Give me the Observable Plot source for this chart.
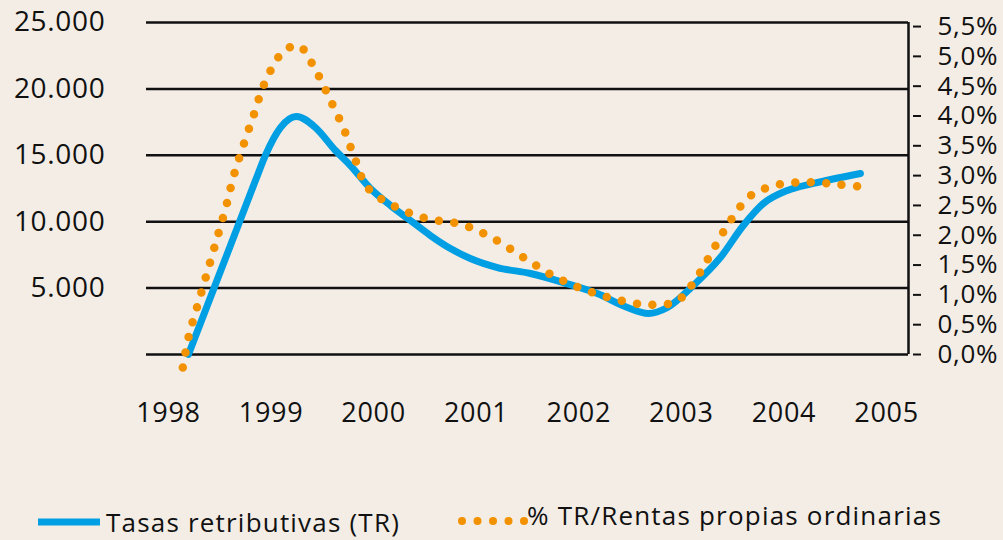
<!DOCTYPE html>
<html>
<head>
<meta charset="utf-8">
<script src="https://cdn.jsdelivr.net/npm/d3@7"></script>
<script src="https://cdn.jsdelivr.net/npm/@observablehq/plot@0.6"></script>
<style>
  html, body { margin: 0; padding: 0; background: #f3ede6; }
  body { width: 1003px; height: 540px; overflow: hidden; font-family: "Open Sans", sans-serif; color: #111; }
  #legend { position: relative; height: 50px; }
  #legend span { position: absolute; font-size: 26px; line-height: 30px; white-space: nowrap; letter-spacing: 1.2px; }
  #legend svg { position: absolute; overflow: visible; }
  #chart svg text { letter-spacing: 0.7px; }
</style>
</head>
<body>
<div id="chart"></div>
<div id="legend"></div>
<script>
// Tasas retributivas (TR), in euros (left axis)
const tasasYear  = [1998.195, 1998.848, 1998.945, 1999.092, 1999.248, 1999.433, 1999.628, 1999.774, 1999.969, 2000.164, 2000.359, 2000.554, 2000.749, 2000.943, 2001.207, 2001.528, 2001.850, 2002.181, 2002.474, 2002.678, 2002.864, 2003.117, 2003.380, 2003.604, 2003.799, 2004.033, 2004.287, 2004.745];
const tasasValue = [0, 13100, 15000, 17090, 17920, 17090, 15360, 14230, 12500, 11220, 10090, 8960, 7980, 7230, 6550, 6100, 5420, 4590, 3540, 3090, 3540, 5200, 7300, 9710, 11370, 12350, 12880, 13630];

// % TR / Rentas propias ordinarias (right axis, percent)
const pctYear  = [1998.14, 1998.20, 1998.29, 1998.38, 1998.47, 1998.56, 1998.64, 1998.74, 1998.83, 1998.94, 1999.12, 1999.27, 1999.44, 1999.58, 1999.71, 1999.82, 1999.94, 2000.21, 2000.52, 2000.86, 2001.16, 2001.45, 2001.73, 2002.02, 2002.33, 2002.64, 2002.95, 2003.15, 2003.31, 2003.48, 2003.68, 2003.95, 2004.24, 2004.54, 2004.82];
const pctValue = [-0.22, 0.32, 0.86, 1.39, 1.93, 2.47, 3.02, 3.56, 4.01, 4.56, 5.08, 5.18, 4.75, 4.26, 3.78, 3.27, 2.80, 2.48, 2.28, 2.18, 1.95, 1.64, 1.34, 1.11, 0.94, 0.84, 0.89, 1.29, 1.76, 2.25, 2.67, 2.85, 2.89, 2.85, 2.80];

const leftTicks  = [5000, 10000, 15000, 20000, 25000];
const rightTicks = [0, 0.5, 1, 1.5, 2, 2.5, 3, 3.5, 4, 4.5, 5, 5.5];
const xTicks     = [1998, 1999, 2000, 2001, 2002, 2003, 2004, 2005];
const xDomain    = [1997.786, 2005.214];

const seriesNames = ["Tasas retributivas (TR)", "% TR/Rentas propias ordinarias"];
const blue = "#009fe3", orange = "#f39200";

// euros per percentage point, linking the two vertical axes
const k = 4490;

const tasas = tasasYear.map((x, i) => ({x, y: tasasValue[i]}));
const pct = pctYear.map((x, i) => ({x, y: pctValue[i] * k}));

const fmtLeft = d => d3.format(",")(d).replace(/,/g, ".");
const fmtRight = d => (d / k).toFixed(1).replace(".", ",") + "%";

const chart = Plot.plot({
  width: 1003,
  height: 490,
  marginLeft: 146,
  marginRight: 95,
  marginTop: 22,
  marginBottom: 136,
  x: {domain: xDomain},
  y: {domain: [0, 25000]},
  style: {background: "transparent", fontFamily: "Open Sans, sans-serif", fontSize: "28px", color: "#111", overflow: "visible"},
  marks: [
    Plot.ruleY([0, ...leftTicks], {stroke: "#111", strokeWidth: 2.5}),
    Plot.ruleX([xDomain[1]], {y1: 0, y2: 25000, stroke: "#111", strokeWidth: 2.5}),
    Plot.axisY(leftTicks, {anchor: "left", tickSize: 0, tickPadding: 41, tickFormat: fmtLeft, label: null, fontSize: 28}),
    Plot.axisY(rightTicks.map(p => p * k), {anchor: "right", tickSize: 8, tickPadding: 17, dx: 4, strokeWidth: 2, tickFormat: fmtRight, label: null, fontSize: 26}),
    Plot.axisX(xTicks, {anchor: "bottom", tickSize: 0, tickPadding: 48, tickFormat: d => String(d), label: null, fontSize: 27}),
    Plot.line(tasas, {x: "x", y: "y", stroke: blue, strokeWidth: 7, curve: "monotone-x"}),
    Plot.line(pct, {x: "x", y: "y", stroke: orange, strokeWidth: 8.5, strokeDasharray: "0 15.5", strokeLinecap: "round", curve: "catmull-rom"})
  ]
});
document.getElementById("chart").appendChild(chart);

// Legend
const lg = document.getElementById("legend");
lg.innerHTML = `
  <svg style="left:38px;top:28px" width="62" height="8"><line x1="0" x2="62" y1="4" y2="4" stroke="${blue}" stroke-width="7"/></svg>
  <span style="left:106px;top:17px">${seriesNames[0]}</span>
  <svg style="left:458px;top:26px" width="70" height="10">${[0,1,2,3,4].map(i => `<circle cx="${4 + i * 15.5}" cy="5" r="4" fill="${orange}"/>`).join("")}</svg>
  <span style="left:527px;top:10px">${seriesNames[1]}</span>
`;
</script>
</body>
</html>
